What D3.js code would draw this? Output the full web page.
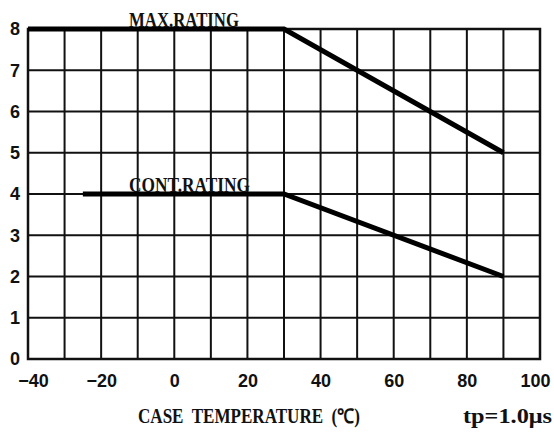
<!DOCTYPE html>
<html>
<head>
<meta charset="utf-8">
<script src="https://cdn.jsdelivr.net/npm/d3@7"></script>
<style>
  body { margin: 0; background: #fff; }
  .tick text { font-family: "Liberation Sans", Arial, sans-serif; font-weight: bold; font-size: 18px; fill: #111; }
  .lbl { font-family: "Liberation Serif", "Times New Roman", serif; font-weight: bold; font-size: 20px; fill: #111; white-space: pre; }
</style>
</head>
<body>
<svg id="chart" width="554" height="434"></svg>
<script>
// Achsen
const xTicks = [-40, -20, 0, 20, 40, 60, 80, 100]
const xGrid = [-40, -30, -20, -10, 0, 10, 20, 30, 40, 50, 60, 70, 80, 90, 100]
const yTicks = [0, 1, 2, 3, 4, 5, 6, 7, 8]

// Kurven (Temperatur, Strom)
const maxRating = [[-40, 8], [30, 8], [90, 5]]
const contRating = [[-25, 4], [30, 4], [90, 2]]

const labels = [
  { text: "MAX.RATING", x: 129, y: 27 },
  { text: "CONT.RATING", x: 129, y: 192 }
]

const plotL = 28, plotR = 540, plotT = 29, plotB = 359

const x = d3.scaleLinear().domain([-40, 100]).range([plotL, plotR])
const y = d3.scaleLinear().domain([0, 8]).range([plotB, plotT])

const svg = d3.select("#chart")

// Gitter
svg.append("g")
  .selectAll("line")
  .data(xGrid)
  .enter()
  .append("line")
  .attr("x1", d => x(d)).attr("x2", d => x(d))
  .attr("y1", plotT).attr("y2", plotB)
  .attr("stroke", "#111").attr("stroke-width", 2)

svg.append("g")
  .selectAll("line")
  .data(yTicks)
  .enter()
  .append("line")
  .attr("x1", plotL).attr("x2", plotR)
  .attr("y1", d => y(d)).attr("y2", d => y(d))
  .attr("stroke", "#111").attr("stroke-width", 2)

// Rahmen
svg.append("rect")
  .attr("x", plotL).attr("y", plotT)
  .attr("width", plotR - plotL).attr("height", plotB - plotT)
  .attr("fill", "none").attr("stroke", "#111").attr("stroke-width", 2.5)

// Achsenbeschriftung
const xAxis = svg.append("g")
  .attr("transform", "translate(0," + plotB + ")")
  .call(d3.axisBottom(x).tickValues(xTicks).tickSize(0).tickPadding(15).tickFormat(d => d < 0 ? "\u2212" + Math.abs(d) : d))
xAxis.select(".domain").remove()
// Randbeschriftungen etwas nach innen
xAxis.selectAll(".tick text").attr("dx", d => d == -40 ? 5 : (d == 100 ? -5 : 0))

const yAxis = svg.append("g")
  .attr("transform", "translate(" + plotL + ",0)")
  .call(d3.axisLeft(y).tickValues(yTicks).tickSize(0).tickPadding(8))
yAxis.select(".domain").remove()

// Kurven
const line = d3.line().x(d => x(d[0])).y(d => y(d[1]))
;[maxRating, contRating].forEach(series => {
  svg.append("path")
    .datum(series)
    .attr("d", line)
    .attr("fill", "none")
    .attr("stroke", "#000")
    .attr("stroke-width", 5)
})

// Texte
svg.selectAll("text.curve")
  .data(labels)
  .enter()
  .append("text")
  .attr("class", "lbl curve")
  .attr("x", d => d.x)
  .attr("y", d => d.y)
  .attr("textLength", d => d.text.length * 11)
  .attr("lengthAdjust", "spacingAndGlyphs")
  .text(d => d.text)

svg.append("text")
  .attr("class", "lbl")
  .attr("x", 138).attr("y", 423)
  .attr("textLength", 222)
  .attr("lengthAdjust", "spacingAndGlyphs")
  .text("CASE  TEMPERATURE  (\u2103)")

svg.append("text")
  .attr("class", "lbl")
  .attr("x", 463).attr("y", 423)
  .attr("textLength", 89)
  .attr("lengthAdjust", "spacingAndGlyphs")
  .text("tp=1.0\u03bcs")
</script>
</body>
</html>
